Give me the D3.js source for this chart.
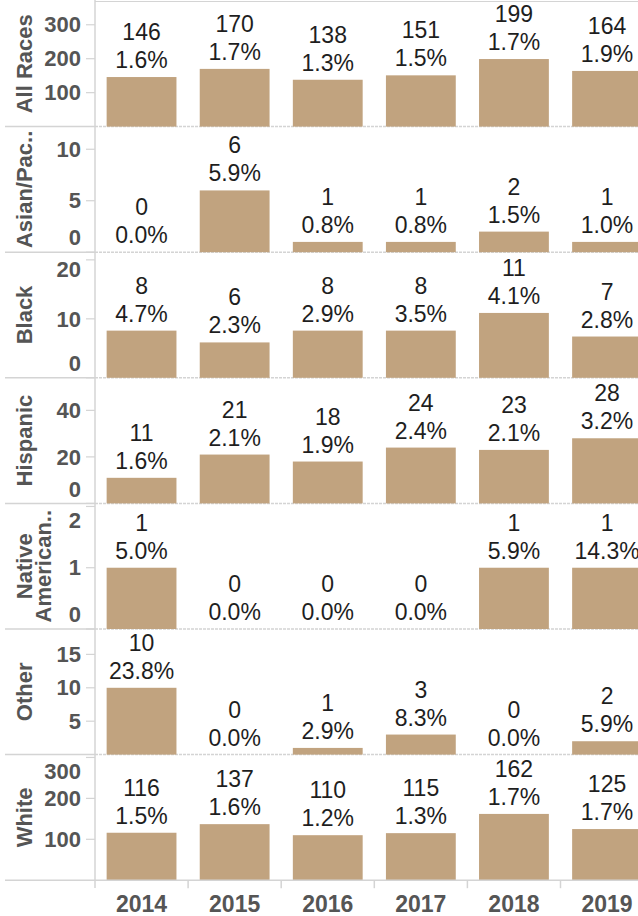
<!DOCTYPE html>
<html>
<head>
<meta charset="utf-8">
<script src="https://cdn.jsdelivr.net/npm/d3@7"></script>
<style>
  body { margin: 0; background: #fff; }
  svg { display: block; font-family: Arial, "Liberation Sans", sans-serif; }
</style>
</head>
<body>
<svg id="chart" width="638" height="916"></svg>
<script>
const years = ['2014', '2015', '2016', '2017', '2018', '2019'];
const races = ['All Races', 'Asian/Pac..', 'Black', 'Hispanic', 'Native American..', 'Other', 'White'];
const raceLines = [['All Races'], ['Asian/Pac..'], ['Black'], ['Hispanic'], ['Native', 'American..'], ['Other'], ['White']];

const counts = [
  [146, 170, 138, 151, 199, 164],
  [0, 6, 1, 1, 2, 1],
  [8, 6, 8, 8, 11, 7],
  [11, 21, 18, 24, 23, 28],
  [1, 0, 0, 0, 1, 1],
  [10, 0, 1, 3, 0, 2],
  [116, 137, 110, 115, 162, 125]
];
const pcts = [
  [1.6, 1.7, 1.3, 1.5, 1.7, 1.9],
  [0.0, 5.9, 0.8, 0.8, 1.5, 1.0],
  [4.7, 2.3, 2.9, 3.5, 4.1, 2.8],
  [1.6, 2.1, 1.9, 2.4, 2.1, 3.2],
  [5.0, 0.0, 0.0, 0.0, 5.9, 14.3],
  [23.8, 0.0, 2.9, 8.3, 0.0, 5.9],
  [1.5, 1.6, 1.2, 1.3, 1.7, 1.7]
];
const axisMax = [370, 12.2, 21.3, 54, 2.05, 18.8, 307];
const tickVals = [
  [100, 200, 300],
  [0, 5, 10],
  [0, 10, 20],
  [0, 20, 40],
  [0, 1, 2],
  [5, 10, 15],
  [100, 200, 300]
];

const svg = d3.select('#chart'),
  left = 95,
  topY = 1,
  panelH = 125.6,
  barColor = '#c1a37f',
  axisColor = '#555',
  gridColor = '#d4d4d4';

const x = d3.scaleBand()
  .domain(years)
  .range([left, left + 6 * 93.1])
  .paddingInner(0.25)
  .paddingOuter(0.125);

// top border of plot area
svg.append('line')
  .attr('x1', left).attr('x2', 638)
  .attr('y1', topY + 0.5).attr('y2', topY + 0.5)
  .attr('stroke', gridColor);

races.forEach((race, i) => {
  const y0 = topY + i * panelH,
    y1 = y0 + panelH;
  const y = d3.scaleLinear().domain([0, axisMax[i]]).range([y1, y0]);
  const g = svg.append('g').attr('class', 'panel');

  // separator: solid in header, dotted along zero line
  if (i < races.length - 1) {
    g.append('line')
      .attr('x1', 5).attr('x2', left)
      .attr('y1', y1).attr('y2', y1)
      .attr('stroke', gridColor).attr('stroke-width', 1.5);
    g.append('line')
      .attr('x1', left).attr('x2', 638)
      .attr('y1', y1).attr('y2', y1)
      .attr('stroke', gridColor).attr('stroke-width', 1.5)
      .attr('stroke-dasharray', '3,1');
  }

  // bars
  g.selectAll('rect')
    .data(counts[i])
    .join('rect')
    .attr('x', (d, j) => x(years[j]))
    .attr('width', x.bandwidth())
    .attr('y', d => y(d))
    .attr('height', d => y(0) - y(d))
    .attr('fill', barColor);

  // value labels
  const lab = g.selectAll('text.val')
    .data(counts[i])
    .join('text')
    .attr('class', 'val')
    .attr('text-anchor', 'middle')
    .attr('font-size', 23)
    .attr('fill', '#1e1e1e');
  lab.append('tspan')
    .attr('x', (d, j) => x(years[j]) + x.bandwidth() / 2)
    .attr('y', d => y(d) - 37)
    .text(d => d);
  lab.append('tspan')
    .attr('x', (d, j) => x(years[j]) + x.bandwidth() / 2)
    .attr('y', d => y(d) - 9)
    .text((d, j) => pcts[i][j].toFixed(1) + '%');

  // y axis ticks
  tickVals[i].forEach(t => {
    const ty = y(t);
    g.append('line')
      .attr('x1', 86).attr('x2', left)
      .attr('y1', ty).attr('y2', ty)
      .attr('stroke', gridColor).attr('stroke-width', 1.2);
    g.append('text')
      .attr('x', 81)
      .attr('y', Math.min(Math.max(ty, y0 + 17), y1 - 14.5))
      .attr('dy', '0.35em')
      .attr('text-anchor', 'end')
      .attr('font-size', 22)
      .attr('font-weight', 'bold')
      .attr('fill', axisColor)
      .text(t);
  });

  // row header
  const lines = raceLines[i],
    cy = (y0 + y1) / 2;
  lines.forEach((ln, k) => {
    const cx = 24 + k * 19;
    g.append('text')
      .attr('transform', `translate(${cx},${cy}) rotate(-90)`)
      .attr('dy', '0.35em')
      .attr('text-anchor', 'middle')
      .attr('font-size', 22)
      .attr('font-weight', 'bold')
      .attr('fill', axisColor)
      .text(ln);
  });
});

// vertical divider between header and plot
svg.append('line')
  .attr('x1', left).attr('x2', left)
  .attr('y1', 0).attr('y2', 888)
  .attr('stroke', gridColor).attr('stroke-width', 1.5);

// bottom axis
const bottom = topY + races.length * panelH;
svg.append('line')
  .attr('x1', 5).attr('x2', 638)
  .attr('y1', bottom).attr('y2', bottom)
  .attr('stroke', gridColor).attr('stroke-width', 1.5);

svg.selectAll('line.xtick')
  .data(years.slice(1))
  .join('line')
  .attr('class', 'xtick')
  .attr('x1', d => x(d) - x.step() * 0.125)
  .attr('x2', d => x(d) - x.step() * 0.125)
  .attr('y1', bottom).attr('y2', bottom + 8)
  .attr('stroke', gridColor).attr('stroke-width', 1.5);

svg.selectAll('text.year')
  .data(years)
  .join('text')
  .attr('class', 'year')
  .attr('x', d => x(d) + x.bandwidth() / 2)
  .attr('y', 912)
  .attr('text-anchor', 'middle')
  .attr('font-size', 23)
  .attr('font-weight', 'bold')
  .attr('fill', axisColor)
  .text(d => d);
</script>
</body>
</html>
